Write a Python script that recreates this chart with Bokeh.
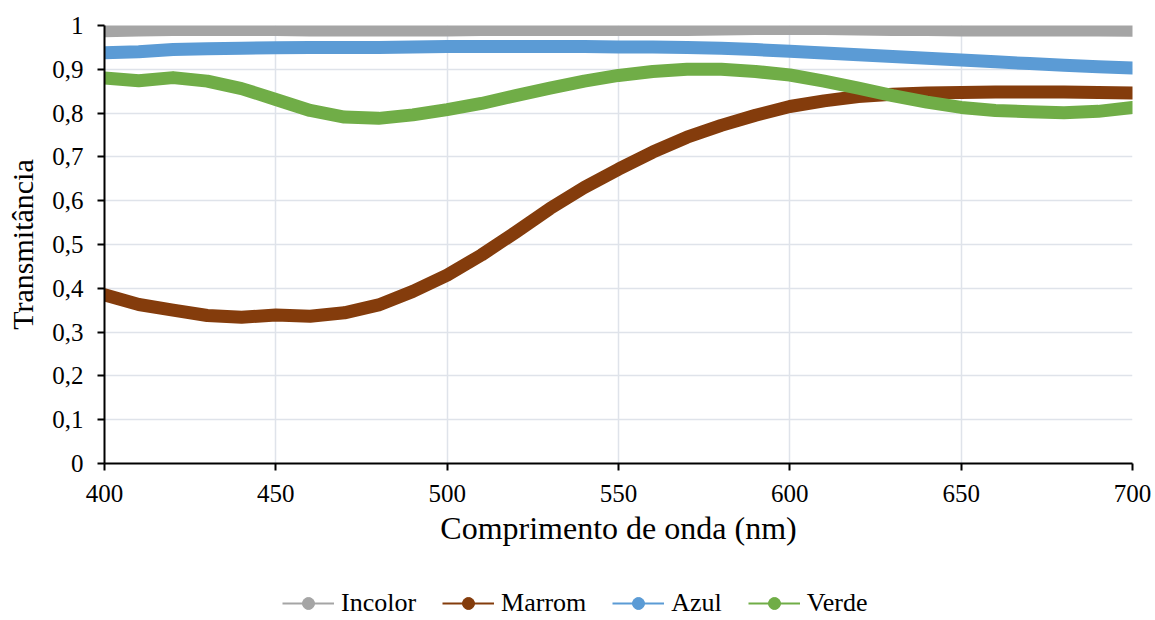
from bokeh.plotting import figure
from bokeh.layouts import column
from bokeh.models import (ColumnDataSource, FixedTicker, CustomJSTickFormatter,
                          Legend, LegendItem, Range1d)
from bokeh.embed import file_html
from bokeh.resources import INLINE

wavelength = [400, 410, 420, 430, 440, 450, 460, 470, 480, 490, 500,
              510, 520, 530, 540, 550, 560, 570, 580, 590, 600,
              610, 620, 630, 640, 650, 660, 670, 680, 690, 700]

incolor = [0.988, 0.990, 0.991, 0.991, 0.991, 0.991, 0.990, 0.990, 0.990, 0.990, 0.990,
           0.991, 0.991, 0.991, 0.991, 0.991, 0.991, 0.991, 0.992, 0.993, 0.993,
           0.993, 0.992, 0.991, 0.991, 0.990, 0.990, 0.990, 0.990, 0.990, 0.989]

marrom = [0.385, 0.363, 0.350, 0.338, 0.334, 0.339, 0.336, 0.344, 0.362, 0.393, 0.430,
          0.476, 0.528, 0.582, 0.630, 0.672, 0.711, 0.745, 0.772, 0.795, 0.815,
          0.828, 0.838, 0.843, 0.846, 0.847, 0.848, 0.848, 0.848, 0.847, 0.846]

azul = [0.938, 0.940, 0.945, 0.947, 0.948, 0.949, 0.950, 0.950, 0.950, 0.951, 0.952,
        0.952, 0.952, 0.952, 0.952, 0.951, 0.951, 0.950, 0.948, 0.945, 0.941,
        0.937, 0.933, 0.929, 0.925, 0.921, 0.917, 0.913, 0.909, 0.906, 0.903]

verde = [0.880, 0.874, 0.881, 0.873, 0.856, 0.831, 0.806, 0.791, 0.788, 0.796, 0.808,
         0.822, 0.840, 0.857, 0.873, 0.886, 0.895, 0.900, 0.900, 0.895, 0.887,
         0.873, 0.857, 0.840, 0.825, 0.813, 0.806, 0.803, 0.801, 0.804, 0.813]

series_names = ["Incolor", "Marrom", "Azul", "Verde"]
series_colors = ["#A5A5A5", "#843C0C", "#5B9BD5", "#70AD47"]
series_values = [incolor, marrom, azul, verde]

x_ticks = [400, 450, 500, 550, 600, 650, 700]
y_ticks = [0, 0.1, 0.2, 0.3, 0.4, 0.5, 0.6, 0.7, 0.8, 0.9, 1.0]

FONT = "Liberation Serif"

p = figure(width=1155, height=570, output_backend="svg", toolbar_location=None,
           x_range=Range1d(400, 700), y_range=Range1d(0, 1),
           min_border_left=104, min_border_right=23, min_border_top=25,
           min_border_bottom=107)
p.outline_line_color = None
p.background_fill_color = "white"
p.border_fill_color = "white"

source = ColumnDataSource(dict(x=wavelength, **{n: v for n, v in zip(series_names, series_values)}))

for name, color in zip(series_names, series_colors):
    p.line("x", name, source=source, line_color=color, line_width=13,
           line_cap="round", line_join="round")

# axes
for ax in (p.xaxis[0], p.yaxis[0]):
    ax.axis_line_color = "#000000"
    ax.axis_line_width = 2
    ax.major_tick_line_color = "#000000"
    ax.major_tick_line_width = 2
    ax.major_tick_in = 0
    ax.major_tick_out = 7
    ax.minor_tick_line_color = None
    ax.major_label_text_font = FONT
    ax.major_label_text_font_size = "25px"
    ax.major_label_text_color = "#000000"
    ax.axis_label_text_font = FONT
    ax.axis_label_text_font_style = "normal"
    ax.axis_label_text_color = "#000000"

p.xaxis.axis_label_text_font_size = "32px"
p.yaxis.axis_label_text_font_size = "30px"
p.xaxis.ticker = FixedTicker(ticks=x_ticks)
p.yaxis.ticker = FixedTicker(ticks=y_ticks)
p.yaxis.formatter = CustomJSTickFormatter(code="""
    if (Math.abs(tick - Math.round(tick)) < 1e-9) { return tick.toFixed(0); }
    return tick.toFixed(1).replace('.', ',');
""")
p.xaxis.axis_label = "Comprimento de onda (nm)"
p.yaxis.axis_label = "Transmitância"
p.xaxis.major_label_standoff = 14
p.yaxis.major_label_standoff = 14
p.xaxis.axis_label_standoff = 5
p.yaxis.axis_label_standoff = 10

p.xgrid.grid_line_color = "#DFE3EA"
p.ygrid.grid_line_color = "#DFE3EA"
p.xgrid.grid_line_width = 1.5
p.ygrid.grid_line_width = 1.5
p.xgrid.ticker = FixedTicker(ticks=x_ticks)
p.ygrid.ticker = FixedTicker(ticks=y_ticks)

# legend strip (separate figure; its frame is aligned with the main frame)
q = figure(width=1155, height=50, output_backend="svg", toolbar_location=None,
           x_range=Range1d(0, 1), y_range=Range1d(0, 1),
           x_axis_type=None, y_axis_type=None, min_border=0)
q.outline_line_color = None
q.xgrid.visible = False
q.ygrid.visible = False

nan = float("nan")
items = []
for name, color in zip(series_names, series_colors):
    holder = ColumnDataSource(dict(x=[nan], y=[nan]))
    r1 = q.line("x", "y", source=holder, line_color=color, line_width=2)
    r2 = q.scatter("x", "y", source=holder, marker="circle", size=12,
                   fill_color=color, line_color=color)
    items.append(LegendItem(label=name, renderers=[r1, r2]))

legend = Legend(items=items, orientation="horizontal", location=(178, 2),
                glyph_width=52, glyph_height=30, label_standoff=7, spacing=26,
                padding=0, margin=0, border_line_color=None,
                background_fill_alpha=0,
                label_text_font=FONT, label_text_font_size="26px",
                label_text_color="#000000")
q.add_layout(legend, "center")

layout = column(p, q, spacing=0)
open("out.html", "w").write(file_html(layout, INLINE))
